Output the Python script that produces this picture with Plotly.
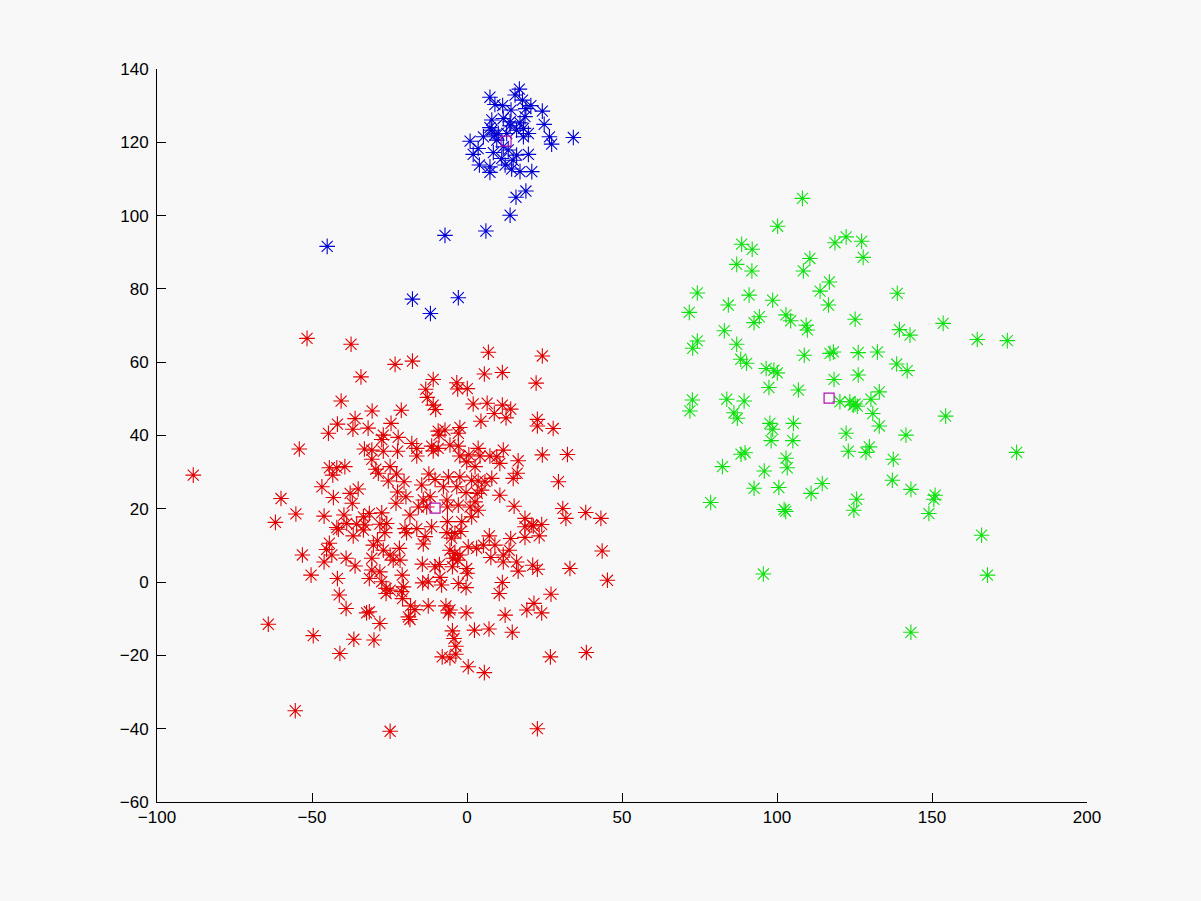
import plotly.graph_objects as go

# Blue cluster
blue_x = [16.9, 15.5, 7.4, 17.9, 9.0, 11.5, 20.6, 24.3, 14.2, 19.0, 11.7, 18.7, 8.0, 17.1, 13.9, 24.9, 7.4,
          19.8, 18.2, 26.6, 34.3, 27.3, 5.3, 9.0, 9.6, 1.0, 3.6, 2.0, 8.5, 13.3, 16.0, 19.8, 11.2, 4.0, 7.4,
          12.3, 14.4, 7.4, 17.1, 20.9, 19.0, 15.8, 13.9, 6.1, -7.1, -45.1, -17.6, -2.8, -11.8,
          13.9, 16.0, 12.8, 11.7, 14.9, 8.0, 10.1, 18.2]
blue_y = [134.5, 132.9, 132.3, 131.5, 130.3, 130.0, 130.0, 128.5, 128.8, 129.2, 126.5, 127.0, 126.1, 125.3,
          124.5, 124.9, 124.0, 122.4, 121.5, 121.5, 121.3, 119.5, 121.5, 122.0, 120.6, 120.3, 118.3, 116.7,
          117.2, 117.9, 116.5, 116.7, 115.6, 113.8, 113.3, 113.8, 112.7, 111.8, 112.0, 112.0, 106.7, 105.0,
          100.1, 95.8, 94.6, 91.6, 77.2, 77.6, 73.3,
          125.6, 123.3, 122.4, 118.8, 115.1, 123.3, 122.4, 123.8]

# Red cluster
red_pts = [
    (-51.6, 66.5), (-37.4, 64.9), (-23.2, 59.4), (-34.2, 56.0), (-40.6, 49.4), (-30.6, 46.7), (-36.1, 44.6),
    (-41.8, 43.1), (-36.8, 41.7), (-31.9, 42.0), (-24.5, 43.3), (-44.7, 40.6), (-27.0, 40.1), (-27.5, 38.9),
    (-22.2, 39.5), (-54.1, 36.3), (-33.1, 36.3), (-30.7, 36.0), (-27.0, 35.7), (-22.4, 35.7), (-30.7, 33.5),
    (-44.4, 31.2), (-42.0, 31.2), (-39.4, 31.5), (-29.4, 30.8), (-24.8, 31.5), (-43.3, 29.2), (-28.6, 29.7),
    (-22.7, 29.5), (-25.4, 27.6), (-88.3, 29.2), (-46.8, 26.0), (-35.1, 25.4), (-37.7, 24.2), (-43.1, 23.1),
    (-22.4, 24.6), (-60.0, 22.8), (-37.0, 21.5), (-22.9, 21.5), (-55.2, 18.6), (-46.1, 18.0), (-39.7, 18.3),
    (-33.4, 17.8), (-31.5, 18.7), (-27.5, 18.9), (-61.8, 16.3), (-42.0, 14.9), (-38.8, 16.0), (-35.6, 15.8),
    (-32.9, 15.6), (-25.9, 16.0),
    (6.9, 62.7), (24.3, 61.7), (-17.6, 60.3), (5.6, 56.8), (11.4, 57.2), (-10.9, 55.3), (-3.3, 54.4),
    (22.3, 54.3), (-13.3, 52.6), (-3.0, 52.7), (0.1, 52.8), (-12.8, 50.4), (-10.9, 48.3), (-10.1, 47.1),
    (2.0, 48.6), (6.5, 48.8), (11.4, 48.3), (14.1, 47.2), (8.8, 46.0), (12.6, 44.8), (-21.2, 46.9),
    (4.5, 43.9), (22.7, 44.4), (22.7, 42.6), (27.8, 41.9), (-9.3, 41.2), (-7.1, 41.5), (-2.3, 42.2),
    (-9.0, 40.1), (-2.8, 40.6), (-17.8, 37.8), (-16.2, 36.5), (-11.4, 37.1), (-9.3, 36.5), (-5.5, 37.4),
    (-2.8, 37.1), (-16.2, 34.4), (-10.9, 35.8), (-2.3, 34.4), (0.6, 34.7), (3.6, 36.5), (4.2, 34.4),
    (7.4, 34.4), (11.7, 36.0), (9.6, 34.2), (-0.1, 32.8), (2.6, 31.5), (10.6, 32.4), (16.5, 33.1),
    (24.3, 34.7), (32.4, 34.8), (16.2, 29.7), (14.9, 28.3), (8.0, 28.3), (-20.3, 27.4), (-12.3, 29.5),
    (-10.3, 28.0), (-6.0, 28.7), (-2.3, 28.7), (1.5, 27.8), (3.6, 27.6), (5.8, 27.4), (29.5, 27.4),
    (-14.6, 26.5), (-7.6, 26.0), (-3.3, 26.0), (-19.7, 23.3), (-0.3, 24.4), (4.7, 25.1), (3.3, 24.2),
    (10.6, 23.7), (-14.1, 22.4), (-11.9, 23.3), (-6.5, 22.4), (2.6, 21.9), (-18.4, 18.3), (-15.7, 20.5),
    (-13.0, 20.5), (-6.3, 20.5), (-2.8, 21.0), (1.0, 20.5), (3.6, 19.6), (15.2, 20.7), (30.9, 20.1),
    (31.9, 17.4), (38.3, 19.0), (43.2, 17.4), (18.7, 17.4), (24.1, 15.7), (20.9, 15.6), (-6.3, 16.5),
    (-1.7, 16.5), (1.5, 17.8), (-11.4, 15.1), (-20.0, 14.6),
    (-41.5, 14.4), (-36.7, 12.6), (-33.4, 14.2), (-28.1, 15.8), (-44.4, 10.6), (-45.3, 8.9), (-43.6, 7.4),
    (-46.1, 5.5), (-53.1, 7.4), (-39.0, 6.5), (-36.1, 4.4), (-30.2, 10.1), (-28.9, 11.3), (-26.5, 13.5),
    (-30.7, 6.5), (-27.0, 8.7), (-24.8, 7.4), (-23.8, 6.0), (-28.1, 2.8), (-31.5, 1.0), (-30.7, 3.3),
    (-27.5, 0.1), (-26.1, -1.7), (-24.8, -2.2), (-26.1, -3.1), (-50.3, 1.9), (-41.8, 1.0), (-41.2, -3.5),
    (-39.0, -7.2), (-32.4, -8.4), (-31.5, -8.1), (-28.1, -11.3), (-64.1, -11.5), (-49.6, -14.6),
    (-36.5, -15.6), (-30.0, -15.8), (-41.0, -19.5), (-55.4, -35.1), (-24.8, -40.7),
    (-19.5, 13.5), (-16.2, 14.6), (-13.5, 12.4), (-6.5, 13.5), (-3.9, 13.3), (-14.1, 10.4), (-21.8, 9.2),
    (-21.6, 6.0), (-5.5, 8.7), (-3.9, 7.8), (-2.3, 7.4), (0.4, 9.6), (3.1, 9.2), (5.3, 10.1), (7.2, 12.6),
    (9.0, 10.1), (7.7, 6.7), (11.7, 7.4), (11.7, 5.5), (14.1, 11.9), (13.6, 8.7), (16.0, 5.5), (16.5, 3.0),
    (18.7, 15.1), (21.4, 15.3), (18.7, 12.2), (23.3, 12.6), (21.2, 4.6), (22.7, 3.5), (33.2, 3.7),
    (43.6, 8.5), (45.3, 0.5), (-14.4, 4.9), (-10.3, 4.2), (-8.9, 4.8), (-4.7, 4.2), (-0.1, 3.7), (0.1, 2.4),
    (-20.9, 1.9), (-8.7, 1.3), (-14.3, -0.2), (-12.5, 0.1), (-8.2, -0.8), (-2.8, -0.4), (-0.3, -1.5),
    (11.4, -0.1), (10.4, -3.1), (27.1, -3.3), (-20.5, -1.3), (-21.1, -2.6), (-20.8, -4.5), (-18.2, -6.5),
    (-16.8, -7.5), (-12.5, -6.5), (-18.4, -10.2), (-18.9, -9.5), (-6.8, -6.5), (-5.5, -7.6), (-6.0, -8.4),
    (-0.3, -8.4), (12.3, -9.0), (19.3, -7.6), (21.6, -5.8), (24.1, -8.4), (2.4, -13.1), (7.1, -12.8),
    (14.6, -13.7), (-4.7, -13.3), (-4.2, -15.4), (-3.6, -17.5), (-3.6, -19.7), (-8.0, -20.4), (-5.5, -20.7),
    (0.4, -23.1), (5.6, -24.7), (26.9, -20.4), (38.5, -19.2), (22.7, -40.0),
    (-5.0, 12.0), (-2.0, 13.8), (-4.5, 6.5), (-3.0, 6.0),
]
red_x = [p[0] for p in red_pts]
red_y = [p[1] for p in red_pts]

# Green cluster
green_pts = [
    (108.2, 104.7), (100.2, 97.1), (122.3, 94.2), (118.7, 92.6), (88.6, 92.2), (92.0, 90.8), (110.6, 88.3),
    (87.0, 86.7), (91.9, 84.9), (108.5, 84.9), (116.9, 81.9), (113.9, 79.4), (74.3, 78.9), (91.0, 78.3),
    (98.6, 76.9), (84.3, 75.6), (116.6, 75.6), (71.7, 73.6), (94.3, 72.4), (92.6, 70.8), (102.9, 72.9),
    (104.4, 71.3), (109.4, 70.1), (109.8, 68.8), (125.2, 71.7), (83.0, 68.6), (74.3, 65.8), (72.8, 63.8),
    (87.0, 64.9), (108.8, 61.9), (117.1, 62.4), (118.2, 62.8), (126.2, 62.6), (88.3, 60.8), (90.2, 59.7),
    (96.5, 58.3), (99.0, 57.8), (100.1, 57.1), (126.2, 56.5), (97.4, 53.1), (106.9, 52.4), (118.4, 55.3),
    (72.7, 49.7), (83.8, 49.9), (89.4, 49.4), (120.3, 49.2), (123.5, 49.2), (125.2, 48.6),
    (127.3, 93.0), (127.8, 88.6), (138.8, 78.8), (139.5, 68.9), (142.9, 67.4), (153.6, 70.6), (164.6, 66.2),
    (174.3, 65.9), (132.4, 62.8), (138.6, 59.5), (142.0, 57.7), (133.0, 51.9), (130.3, 49.9),
    (71.9, 46.7), (86.1, 46.2), (87.2, 44.7), (97.7, 43.3), (98.6, 41.7), (105.3, 43.3), (98.1, 38.6),
    (105.1, 38.6), (122.3, 40.6), (123.0, 35.7), (88.4, 34.9), (89.7, 35.3), (102.9, 33.8), (103.3, 31.2),
    (82.4, 31.5), (95.9, 30.3), (92.6, 25.6), (100.6, 25.8), (114.6, 26.9), (111.0, 24.2), (125.7, 22.6),
    (124.8, 19.6), (78.6, 21.7), (102.3, 19.8), (102.8, 19.3), (95.6, 2.2),
    (124.6, 48.3), (125.9, 48.0), (130.9, 46.0), (133.0, 42.6), (141.6, 40.1), (154.4, 45.3), (129.8, 36.9),
    (128.7, 35.4), (137.5, 33.5), (177.3, 35.4), (137.2, 27.8), (143.2, 25.3), (151.0, 23.7), (150.6, 22.6),
    (149.0, 18.7), (166.0, 12.8), (167.9, 1.9), (143.2, -13.7),
]
green_x = [p[0] for p in green_pts]
green_y = [p[1] for p in green_pts]

# Cluster centres
centre_x = [-10.3, 116.8, 12.6]
centre_y = [20.2, 50.2, 120.3]

x_ticks = [-100, -50, 0, 50, 100, 150, 200]
y_ticks = [-60, -40, -20, 0, 20, 40, 60, 80, 100, 120, 140]


def tick_text(v):
    return str(v).replace("-", "\u2212")


fig = go.Figure()


def star_trace(xs, ys, color):
    return go.Scatter(x=xs, y=ys, mode="markers", showlegend=False, hoverinfo="skip",
                      marker=dict(symbol="asterisk-open", size=13, color=color,
                                  line=dict(color=color, width=1.1)))


fig.add_trace(star_trace(red_x, red_y, "#e00000"))
fig.add_trace(star_trace(green_x, green_y, "#10e010"))
fig.add_trace(star_trace(blue_x, blue_y, "#0000d0"))
fig.add_trace(go.Scatter(x=centre_x, y=centre_y, mode="markers", showlegend=False, hoverinfo="skip",
                         marker=dict(symbol="square-open", size=10, color="#b010b0",
                                     line=dict(color="#b010b0", width=1.2))))

axis_common = dict(showgrid=False, zeroline=False, showline=True, linecolor="black", linewidth=1,
                   mirror=False, ticks="inside", ticklen=9, tickcolor="black", tickwidth=1,
                   tickfont=dict(family="Liberation Sans, Arial, sans-serif", size=17, color="black"))

fig.update_xaxes(range=[-100, 200], tickvals=x_ticks, ticktext=[tick_text(v) for v in x_ticks], **axis_common)
fig.update_yaxes(range=[-60, 140], tickvals=y_ticks, ticktext=[tick_text(v) for v in y_ticks],
                 ticklabelstandoff=4, **axis_common)

fig.update_layout(width=1201, height=901, paper_bgcolor="#f8f8f8", plot_bgcolor="#f8f8f8",
                  margin=dict(l=157, r=114, t=69, b=99))

fig.write_html(
    "out.html",
    config={"displayModeBar": False},
    post_script="document.body.style.margin='0';document.body.style.background='#f8f8f8';"
                "document.body.style.overflow='hidden';",
)
